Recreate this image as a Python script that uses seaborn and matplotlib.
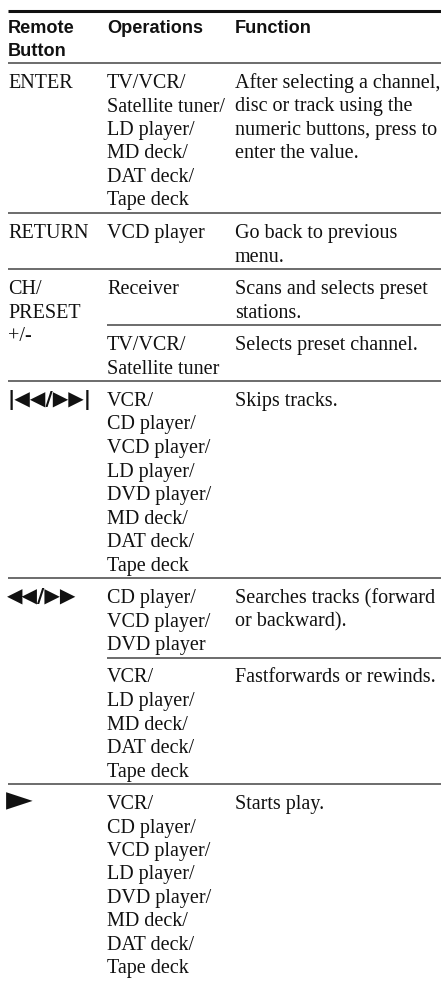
import matplotlib
matplotlib.use("Agg")
import matplotlib.pyplot as plt
import seaborn as sns

# Table content: remote buttons, operations and functions

headers = ["Remote\nButton", "Operations", "Function"]

buttons = ["ENTER", "RETURN", "CH/\nPRESET\n+/-", "|\u25c0\u25c0/\u25b6\u25b6|", "\u25c0\u25c0/\u25b6\u25b6", "\u25ba"]

# each sub row belongs to one button
row_button = [0, 1, 2, 2, 3, 4, 4, 5]

operations = [
    "TV/VCR/\nSatellite tuner/\nLD player/\nMD deck/\nDAT deck/\nTape deck",
    "VCD player",
    "Receiver",
    "TV/VCR/\nSatellite tuner",
    "VCR/\nCD player/\nVCD player/\nLD player/\nDVD player/\nMD deck/\nDAT deck/\nTape deck",
    "CD player/\nVCD player/\nDVD player",
    "VCR/\nLD player/\nMD deck/\nDAT deck/\nTape deck",
    "VCR/\nCD player/\nVCD player/\nLD player/\nDVD player/\nMD deck/\nDAT deck/\nTape deck",
]

functions = [
    "After selecting a channel,\ndisc or track using the\nnumeric buttons, press to\nenter the value.",
    "Go back to previous\nmenu.",
    "Scans and selects preset\nstations.",
    "Selects preset channel.",
    "Skips tracks.",
    "Searches tracks (forward\nor backward).",
    "Fastforwards or rewinds.",
    "Starts play.",
]

# layout (pixels)
W, H = 441, 983
col_x = [8, 107, 235]
line_h = 23.5
pad_top = 17.5
pad_bot = 15.0
base_off = 7.5

sns.set_theme(style="white")
body_font = dict(family="Liberation Serif", size=14.5, color="#111111")
head_font = dict(family="Liberation Sans", size=13.1, weight="bold", color="#111111")
sym_font = dict(family=["DejaVu Sans", "Noto Sans"], size=14.5, weight="bold", color="#111111")
play_font = dict(family=["DejaVu Sans", "Noto Sans"], size=25, color="#111111")

fig = plt.figure(figsize=(W / 100, H / 100), dpi=100)
ax = fig.add_axes([0, 0, 1, 1])
ax.set_xlim(0, W)
ax.set_ylim(H, 0)
ax.axis("off")


def draw_lines(x, y0, txt, font, off=base_off):
    for i, ln in enumerate(txt.split("\n")):
        ax.text(x, y0 + i * line_h + off, ln, va="baseline", ha="left", **font)


# header
ax.hlines(11, col_x[0], W, color="#111111", lw=2.2)
for x, h in zip(col_x, headers):
    draw_lines(x, 27, h, head_font, off=6)
y = 63
ax.hlines(y, col_x[0], W, color="#444444", lw=1.1)

# body rows
for i, (b, op, fn) in enumerate(zip(row_button, operations, functions)):
    n = max(op.count("\n"), fn.count("\n")) + 1
    first = y + pad_top
    if i == 0 or row_button[i - 1] != b:
        if b < 3:
            draw_lines(col_x[0], first, buttons[b], body_font)
        elif b < 5:
            draw_lines(col_x[0] - 1, first, buttons[b], sym_font, off=6)
        else:
            draw_lines(col_x[0] - 2, first, buttons[b], play_font, off=9)
    draw_lines(col_x[1], first, op, body_font)
    draw_lines(col_x[2], first, fn, body_font)
    y = first + (n - 1) * line_h + pad_bot
    if i + 1 < len(row_button):
        x0 = col_x[1] if row_button[i + 1] == b else col_x[0]
        ax.hlines(y, x0, W, color="#444444", lw=1.1)

fig.savefig("out.png", dpi=100, facecolor="white")
